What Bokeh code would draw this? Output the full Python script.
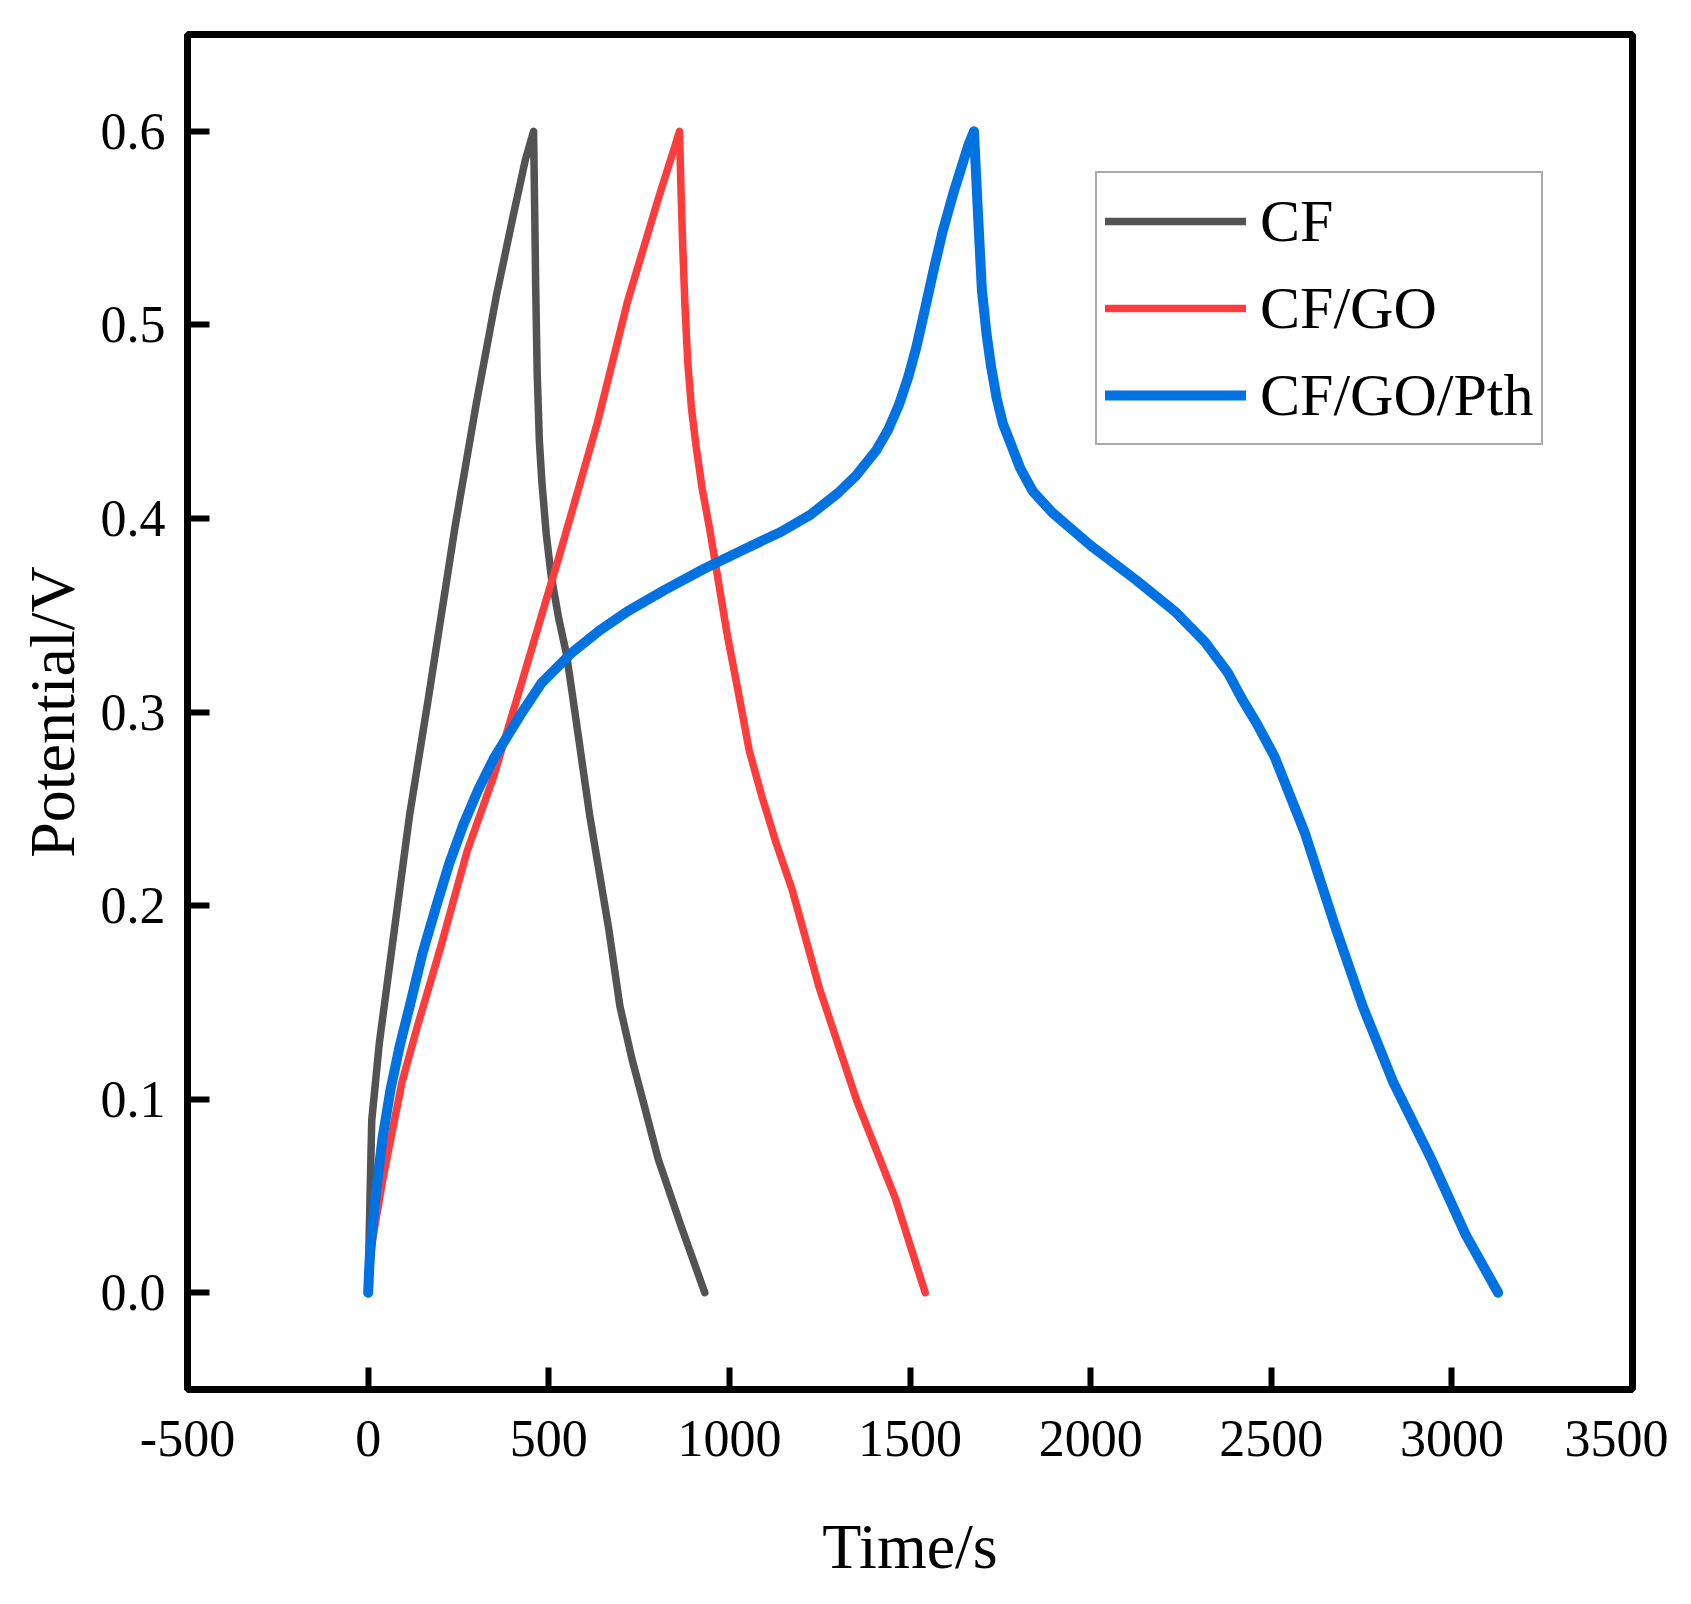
from bokeh.plotting import figure
from bokeh.models import Range1d, FixedTicker, PrintfTickFormatter
from bokeh.embed import file_html
from bokeh.resources import INLINE

# ---- data ----
cf_t = [0, 3, 10, 31, 73, 115, 165, 240, 300, 355, 400, 435, 458,
        461, 464, 468, 474, 481, 493, 507, 528, 549, 567, 613, 666, 697, 730, 761, 803, 867, 932]
cf_v = [0.0, 0.03, 0.089, 0.129, 0.188, 0.247, 0.305, 0.395, 0.46, 0.515, 0.555, 0.585, 0.6,
        0.56, 0.518, 0.475, 0.440, 0.419, 0.392, 0.370, 0.348, 0.330, 0.307, 0.247, 0.188, 0.148,
        0.121, 0.099, 0.069, 0.034, 0.0]

go_t = [0, 10, 41, 94, 137, 200, 274, 348, 412, 528, 634, 718, 803, 862,
        866, 871, 877, 885, 895, 908, 925, 945, 962, 994, 1028, 1055, 1089, 1130, 1174, 1248,
        1353, 1459, 1542]
go_v = [0.0, 0.025, 0.059, 0.109, 0.138, 0.178, 0.228, 0.267, 0.307, 0.380, 0.449, 0.512, 0.565, 0.6,
        0.57, 0.54, 0.51, 0.48, 0.457, 0.437, 0.415, 0.395, 0.376, 0.340, 0.307, 0.280, 0.257,
        0.232, 0.208, 0.158, 0.099, 0.049, 0.0]

pth_t = [0, 5, 20, 40, 62, 88, 115, 150, 189, 225, 264, 305, 348, 420, 480, 560, 640, 718, 820,
         930, 1040, 1142, 1225, 1300, 1350, 1406, 1440, 1470, 1495, 1517, 1540, 1565, 1590, 1620,
         1645, 1662, 1677,
         1688, 1699, 1712, 1724, 1740, 1757, 1778, 1805, 1840, 1894, 1950, 2000, 2127, 2233, 2317,
         2381, 2418, 2460, 2509, 2594, 2679, 2753, 2837, 2943, 3038, 3128]
pth_v = [0.0, 0.02, 0.049, 0.08, 0.105, 0.128, 0.148, 0.175, 0.200, 0.222, 0.242, 0.260, 0.276,
         0.298, 0.315, 0.330, 0.342, 0.352, 0.363, 0.374, 0.384, 0.393, 0.402, 0.413, 0.422, 0.435,
         0.446, 0.459, 0.473, 0.488, 0.507, 0.528, 0.548, 0.568, 0.583, 0.593, 0.6,
         0.558, 0.518, 0.495, 0.479, 0.462, 0.449, 0.439, 0.426, 0.414, 0.403, 0.394, 0.386, 0.368,
         0.352, 0.336, 0.320, 0.307, 0.294, 0.277, 0.237, 0.188, 0.148, 0.109, 0.069, 0.030, 0.0]

series_names = ["CF", "CF/GO", "CF/GO/Pth"]
series_colors = ["#535353", "#FF3C3C", "#0072E2"]

x_ticks = [-500, 0, 500, 1000, 1500, 2000, 2500, 3000, 3500]
x_tick_labels = ["-500", "0", "500", "1000", "1500", "2000", "2500", "3000", "3500"]
y_ticks = [0.0, 0.1, 0.2, 0.3, 0.4, 0.5, 0.6]

x_title = "Time/s"
y_title = "Potential/V"

FONT = "Liberation Serif"

p = figure(frame_width=1445, frame_height=1355,
           x_range=Range1d(-500, 3500), y_range=Range1d(-0.05, 0.65),
           output_backend="svg", toolbar_location=None,
           min_border_left=187, min_border_right=36,
           min_border_top=34, min_border_bottom=190)

p.xgrid.visible = False
p.ygrid.visible = False
p.outline_line_color = "black"
p.outline_line_width = 7
p.outline_line_alpha = 1.0
p.background_fill_color = "white"
p.border_fill_color = "white"

for ax in (p.xaxis[0], p.yaxis[0]):
    ax.axis_line_color = None
    ax.major_tick_in = 22
    ax.major_tick_out = 0
    ax.major_tick_line_width = 6
    ax.major_tick_line_color = "black"
    ax.minor_tick_line_color = None
    ax.major_label_text_font = FONT
    ax.major_label_text_font_size = "52px"
    ax.major_label_text_color = "black"
    ax.axis_label_text_font = FONT
    ax.axis_label_text_font_size = "64px"
    ax.axis_label_text_font_style = "normal"
    ax.axis_label_text_color = "black"

p.xaxis[0].ticker = FixedTicker(ticks=x_ticks)
p.xaxis[0].major_label_overrides = {t: s for t, s in zip(x_ticks, x_tick_labels)}
p.xaxis[0].major_label_standoff = 31
p.xaxis[0].axis_label = x_title
p.xaxis[0].axis_label_standoff = 52

p.yaxis[0].ticker = FixedTicker(ticks=y_ticks)
p.yaxis[0].formatter = PrintfTickFormatter(format="%.1f")
p.yaxis[0].major_label_standoff = 22
p.yaxis[0].axis_label = y_title
p.yaxis[0].axis_label_standoff = 10

widths = [7.5, 7.5, 10]
for t, v, name, col, w in zip([cf_t, go_t, pth_t], [cf_v, go_v, pth_v],
                              series_names, series_colors, widths):
    p.line(t, v, line_color=col, line_width=w, line_join="round", line_cap="round",
           legend_label=name)

leg = p.legend[0]
leg.location = (908, 944)
leg.glyph_width = 141
leg.glyph_height = 80
leg.label_height = 80
leg.spacing = 7
leg.padding = 8
leg.margin = 0
leg.label_standoff = 14
leg.label_text_font = FONT
leg.label_text_font_size = "60px"
leg.label_text_color = "black"
leg.border_line_color = "#555555"
leg.border_line_width = 2
leg.background_fill_color = "white"
leg.background_fill_alpha = 1.0

open("out.html", "w").write(file_html(p, INLINE))
